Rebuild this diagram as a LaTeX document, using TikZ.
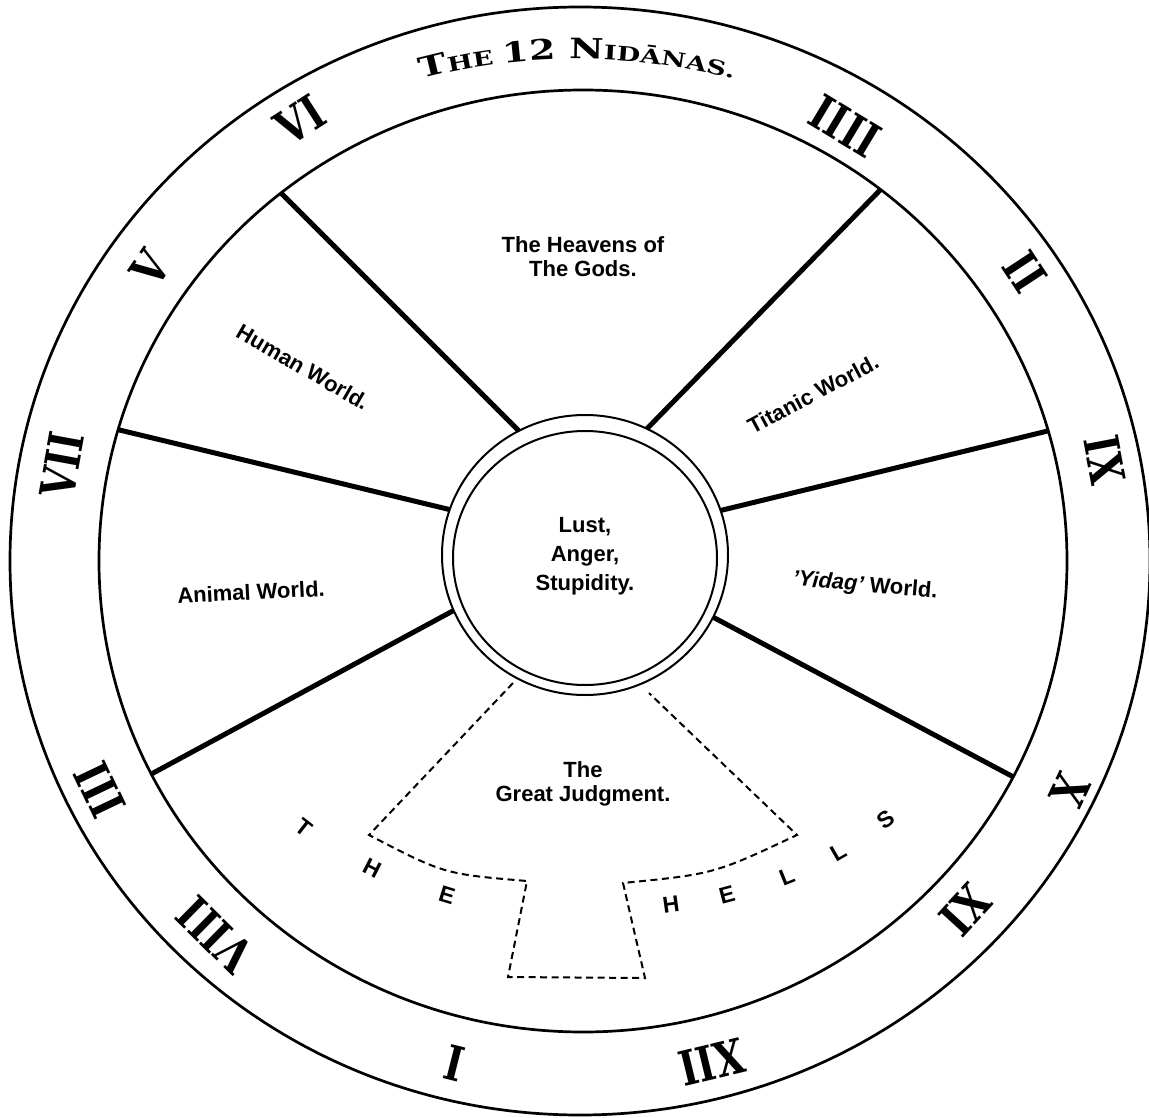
\documentclass[tikz,border=0pt]{standalone}
\usepackage{fontspec}
\setmainfont{Liberation Sans}
\newfontfamily\numfont{DejaVu Serif}[FakeStretch=0.8]
\newfontfamily\titfont{DejaVu Serif}[FakeStretch=1.35]
\usetikzlibrary{decorations.text,calc}
\newcommand\TitBig{\titfont\bfseries\fontsize{28pt}{28pt}\selectfont}
\newcommand\TitSml{\titfont\bfseries\fontsize{20pt}{20pt}\selectfont}
\begin{document}
\begin{tikzpicture}[x=1pt,y=-1pt,
  ringline/.style={line width=2.7pt},
  spoke/.style={line width=5pt},
  hub/.style={line width=2pt},
  dashline/.style={line width=2pt, dash pattern=on 7pt off 4.5pt},
  lab/.style={font=\bfseries\fontsize{22pt}{24pt}\selectfont, align=center, inner sep=0pt},
  num/.style={font=\numfont\bfseries\fontsize{48pt}{48pt}\selectfont, inner sep=0pt},
  hell/.style={font=\bfseries\fontsize{23pt}{23pt}\selectfont, inner sep=0pt}
]
\fill[white] (0,0) rectangle (1149,1118);
\useasboundingbox (0,0) rectangle (1149,1118);

% spokes (clipped to the ring)
\coordinate (s1o) at (274,186); \coordinate (s1i) at (533,445);
\coordinate (s2o) at (887,183); \coordinate (s2i) at (633,443);
\coordinate (s3o) at (107,427); \coordinate (s3i) at (468,514);
\coordinate (s4o) at (1060,428); \coordinate (s4i) at (702,515);
\coordinate (s5o) at (144,778); \coordinate (s5i) at (473,600);
\coordinate (s6o) at (1021,781); \coordinate (s6i) at (694,607);
\begin{scope}
  \clip (583,561) ellipse [x radius=484, y radius=471];
  \draw[spoke] (s1o) -- (s1i);
  \draw[spoke] (s2o) -- (s2i);
  \draw[spoke] (s3o) -- (s3i);
  \draw[spoke] (s4o) -- (s4i);
  \draw[spoke] (s5o) -- (s5i);
  \draw[spoke] (s6o) -- (s6i);
\end{scope}

% rings
\draw[ringline] (580,561) ellipse [x radius=570, y radius=554];
\draw[ringline] (583,561) ellipse [x radius=484, y radius=471];

% hub
\fill[white] (585,555) ellipse [x radius=143, y radius=140];
\draw[hub] (585,555) ellipse [x radius=143, y radius=140];
\draw[hub] (585,558) ellipse [x radius=132, y radius=127];

% dashed outline of the hells
\coordinate (d1) at (513,683);
\coordinate (d2) at (369,835);
\coordinate (d3) at (527,881);
\coordinate (d4) at (508,977);
\coordinate (d5) at (645,978);
\coordinate (d6) at (623,883);
\coordinate (d7) at (797,835);
\coordinate (d8) at (649,693);
\draw[dashline] (d1) -- (d2) .. controls (444,874) .. (d3) -- (d4) -- (d5) -- (d6)
   .. controls (714,874) .. (d7) -- (d8);

% title
\path[decorate, decoration={text along path, text align=center,
  text={|\TitBig|T|\TitSml|HE |\TitBig|12 N|\TitSml|IDĀNAS.}}]
  (398,86) .. controls (510,50) and (640,50) .. (757,86);

% numerals
\node[num, rotate=32.7]  (n6)  at (300,120)  {VI};
\node[num, rotate=-31]   (n4)  at (845,126)  {IIII};
\node[num, rotate=56]    (n5)  at (150,268)  {V};
\node[num, rotate=-56.7] (n2)  at (1025,272) {II};
\node[num, rotate=79.6]  (n7)  at (62,465)   {VII};
\node[num, rotate=-79.2] (n9)  at (1105,460) {IX};
\node[num, rotate=115.5] (n3)  at (100,790)  {III};
\node[num, rotate=-115.3](n10) at (1070,790) {X};
\node[num, rotate=135.5] (n8)  at (215,935)  {VIII};
\node[num, rotate=-132.5](n11) at (965,910)  {XI};
\node[num, rotate=165.9] (n1)  at (455,1063) {I};
\node[num, rotate=-166.4](n12) at (712,1062) {XII};

% labels
\node[lab] (heav) at (583,257) {The Heavens of\\The Gods.};
\node[lab, rotate=-30] (human) at (303,367) {Human World.};
\node[lab, rotate=28] (titan) at (813,394) {Titanic World.};
\node[lab, rotate=3] (animal) at (251,592) {Animal World.};
\node[lab, rotate=-5] (yidag) at (865,586) {\itshape ’Yidag’\upshape\ World.};
\node[lab, font=\bfseries\fontsize{22pt}{29pt}\selectfont] (lust) at (585,556) {Lust,\\Anger,\\Stupidity.};
\node[lab] (judg) at (583,784) {The\\Great Judgment.};

% THE HELLS
\node[hell, rotate=-38] (h1) at (304,828) {T};
\node[hell, rotate=-27] (h2) at (372,868) {H};
\node[hell, rotate=-17] (h3) at (447,895) {E};
\node[hell, rotate=8]   (h4) at (671,905) {H};
\node[hell, rotate=15]  (h5) at (727,895) {E};
\node[hell, rotate=22]  (h6) at (787,877) {L};
\node[hell, rotate=30]  (h7) at (839,852) {L};
\node[hell, rotate=37]  (h8) at (886,820) {S};
\end{tikzpicture}
\end{document}
